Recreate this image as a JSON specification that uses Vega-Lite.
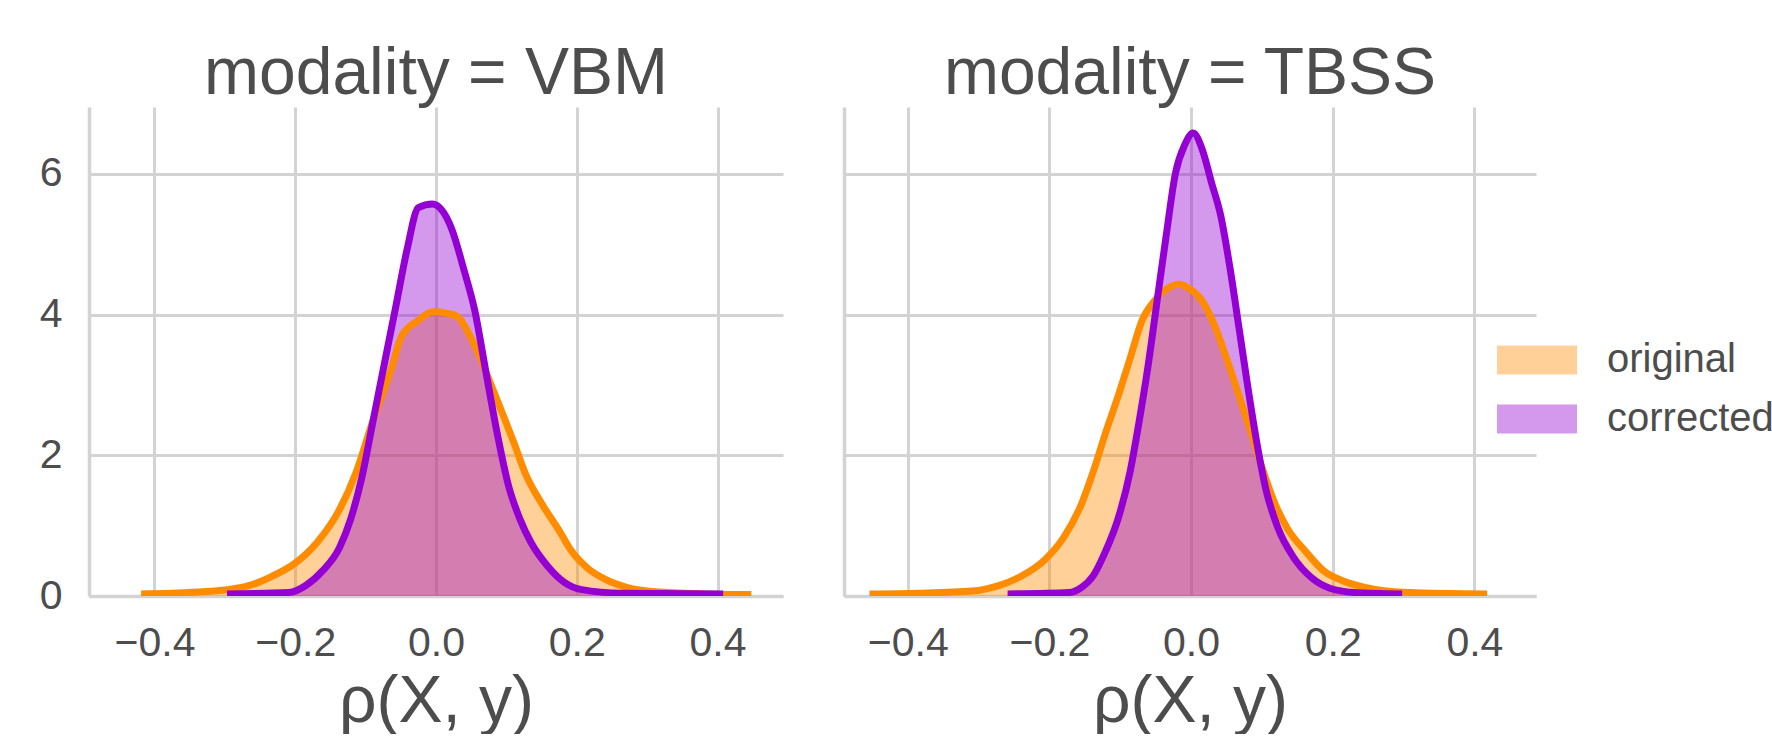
{
  "$schema": "https://vega.github.io/schema/vega-lite/v6.json",
  "background": "white",
  "padding": {"left": 39, "top": 41, "right": 0, "bottom": 0},
  "config": {
    "font": "Liberation Sans",
    "view": {"stroke": null},
    "axis": {
      "labelFont": "Liberation Sans", "labelFontSize": 41, "labelColor": "#4d4d4d",
      "titleFont": "Liberation Sans", "titleFontSize": 66, "titleColor": "#4d4d4d", "titleFontWeight": "normal",
      "gridColor": "#d3d3d3", "gridWidth": 3, "domainColor": "#d3d3d3", "domainWidth": 3.5,
      "ticks": false, "labelPadding": 27
    },
    "title": {"font": "Liberation Sans", "fontSize": 66, "fontWeight": "normal", "color": "#4d4d4d", "anchor": "middle", "offset": -1},
    "legend": {"labelFont": "Liberation Sans", "labelFontSize": 40, "labelColor": "#4d4d4d"}
  },
  "datasets": {
    "kde": [
      {"modality": "VBM", "group": "original", "x": -0.419, "d": 0.03},
      {"modality": "VBM", "group": "original", "x": -0.377, "d": 0.04},
      {"modality": "VBM", "group": "original", "x": -0.297, "d": 0.09},
      {"modality": "VBM", "group": "original", "x": -0.265, "d": 0.15},
      {"modality": "VBM", "group": "original", "x": -0.233, "d": 0.28},
      {"modality": "VBM", "group": "original", "x": -0.201, "d": 0.46},
      {"modality": "VBM", "group": "original", "x": -0.169, "d": 0.76},
      {"modality": "VBM", "group": "original", "x": -0.137, "d": 1.23},
      {"modality": "VBM", "group": "original", "x": -0.113, "d": 1.77},
      {"modality": "VBM", "group": "original", "x": -0.089, "d": 2.51},
      {"modality": "VBM", "group": "original", "x": -0.065, "d": 3.18},
      {"modality": "VBM", "group": "original", "x": -0.049, "d": 3.69},
      {"modality": "VBM", "group": "original", "x": -0.025, "d": 3.92},
      {"modality": "VBM", "group": "original", "x": -0.005, "d": 4.04},
      {"modality": "VBM", "group": "original", "x": 0.015, "d": 4.02},
      {"modality": "VBM", "group": "original", "x": 0.031, "d": 3.97},
      {"modality": "VBM", "group": "original", "x": 0.047, "d": 3.72},
      {"modality": "VBM", "group": "original", "x": 0.063, "d": 3.38},
      {"modality": "VBM", "group": "original", "x": 0.079, "d": 2.98},
      {"modality": "VBM", "group": "original", "x": 0.095, "d": 2.58},
      {"modality": "VBM", "group": "original", "x": 0.111, "d": 2.17},
      {"modality": "VBM", "group": "original", "x": 0.127, "d": 1.74},
      {"modality": "VBM", "group": "original", "x": 0.151, "d": 1.30},
      {"modality": "VBM", "group": "original", "x": 0.175, "d": 0.93},
      {"modality": "VBM", "group": "original", "x": 0.191, "d": 0.66},
      {"modality": "VBM", "group": "original", "x": 0.216, "d": 0.39},
      {"modality": "VBM", "group": "original", "x": 0.240, "d": 0.24},
      {"modality": "VBM", "group": "original", "x": 0.272, "d": 0.12},
      {"modality": "VBM", "group": "original", "x": 0.312, "d": 0.06},
      {"modality": "VBM", "group": "original", "x": 0.384, "d": 0.03},
      {"modality": "VBM", "group": "original", "x": 0.448, "d": 0.02},

      {"modality": "VBM", "group": "corrected", "x": -0.297, "d": 0.03},
      {"modality": "VBM", "group": "corrected", "x": -0.209, "d": 0.05},
      {"modality": "VBM", "group": "corrected", "x": -0.185, "d": 0.15},
      {"modality": "VBM", "group": "corrected", "x": -0.161, "d": 0.36},
      {"modality": "VBM", "group": "corrected", "x": -0.137, "d": 0.69},
      {"modality": "VBM", "group": "corrected", "x": -0.121, "d": 1.10},
      {"modality": "VBM", "group": "corrected", "x": -0.105, "d": 1.70},
      {"modality": "VBM", "group": "corrected", "x": -0.089, "d": 2.51},
      {"modality": "VBM", "group": "corrected", "x": -0.073, "d": 3.32},
      {"modality": "VBM", "group": "corrected", "x": -0.057, "d": 4.12},
      {"modality": "VBM", "group": "corrected", "x": -0.041, "d": 4.93},
      {"modality": "VBM", "group": "corrected", "x": -0.025, "d": 5.52},
      {"modality": "VBM", "group": "corrected", "x": -0.005, "d": 5.57},
      {"modality": "VBM", "group": "corrected", "x": 0.007, "d": 5.50},
      {"modality": "VBM", "group": "corrected", "x": 0.023, "d": 5.20},
      {"modality": "VBM", "group": "corrected", "x": 0.039, "d": 4.66},
      {"modality": "VBM", "group": "corrected", "x": 0.055, "d": 4.06},
      {"modality": "VBM", "group": "corrected", "x": 0.071, "d": 3.18},
      {"modality": "VBM", "group": "corrected", "x": 0.087, "d": 2.31},
      {"modality": "VBM", "group": "corrected", "x": 0.103, "d": 1.57},
      {"modality": "VBM", "group": "corrected", "x": 0.119, "d": 1.10},
      {"modality": "VBM", "group": "corrected", "x": 0.135, "d": 0.76},
      {"modality": "VBM", "group": "corrected", "x": 0.159, "d": 0.42},
      {"modality": "VBM", "group": "corrected", "x": 0.183, "d": 0.19},
      {"modality": "VBM", "group": "corrected", "x": 0.207, "d": 0.09},
      {"modality": "VBM", "group": "corrected", "x": 0.264, "d": 0.04},
      {"modality": "VBM", "group": "corrected", "x": 0.408, "d": 0.03},

      {"modality": "TBSS", "group": "original", "x": -0.454, "d": 0.03},
      {"modality": "TBSS", "group": "original", "x": -0.385, "d": 0.04},
      {"modality": "TBSS", "group": "original", "x": -0.309, "d": 0.07},
      {"modality": "TBSS", "group": "original", "x": -0.274, "d": 0.14},
      {"modality": "TBSS", "group": "original", "x": -0.240, "d": 0.28},
      {"modality": "TBSS", "group": "original", "x": -0.206, "d": 0.52},
      {"modality": "TBSS", "group": "original", "x": -0.180, "d": 0.83},
      {"modality": "TBSS", "group": "original", "x": -0.155, "d": 1.30},
      {"modality": "TBSS", "group": "original", "x": -0.138, "d": 1.77},
      {"modality": "TBSS", "group": "original", "x": -0.121, "d": 2.31},
      {"modality": "TBSS", "group": "original", "x": -0.103, "d": 2.84},
      {"modality": "TBSS", "group": "original", "x": -0.086, "d": 3.38},
      {"modality": "TBSS", "group": "original", "x": -0.069, "d": 3.92},
      {"modality": "TBSS", "group": "original", "x": -0.052, "d": 4.19},
      {"modality": "TBSS", "group": "original", "x": -0.035, "d": 4.36},
      {"modality": "TBSS", "group": "original", "x": -0.018, "d": 4.43},
      {"modality": "TBSS", "group": "original", "x": -0.001, "d": 4.36},
      {"modality": "TBSS", "group": "original", "x": 0.016, "d": 4.19},
      {"modality": "TBSS", "group": "original", "x": 0.033, "d": 3.85},
      {"modality": "TBSS", "group": "original", "x": 0.050, "d": 3.38},
      {"modality": "TBSS", "group": "original", "x": 0.068, "d": 2.84},
      {"modality": "TBSS", "group": "original", "x": 0.085, "d": 2.31},
      {"modality": "TBSS", "group": "original", "x": 0.102, "d": 1.77},
      {"modality": "TBSS", "group": "original", "x": 0.119, "d": 1.30},
      {"modality": "TBSS", "group": "original", "x": 0.136, "d": 0.96},
      {"modality": "TBSS", "group": "original", "x": 0.162, "d": 0.63},
      {"modality": "TBSS", "group": "original", "x": 0.187, "d": 0.36},
      {"modality": "TBSS", "group": "original", "x": 0.213, "d": 0.22},
      {"modality": "TBSS", "group": "original", "x": 0.256, "d": 0.10},
      {"modality": "TBSS", "group": "original", "x": 0.307, "d": 0.05},
      {"modality": "TBSS", "group": "original", "x": 0.418, "d": 0.03},

      {"modality": "TBSS", "group": "corrected", "x": -0.259, "d": 0.03},
      {"modality": "TBSS", "group": "corrected", "x": -0.172, "d": 0.05},
      {"modality": "TBSS", "group": "corrected", "x": -0.155, "d": 0.12},
      {"modality": "TBSS", "group": "corrected", "x": -0.138, "d": 0.29},
      {"modality": "TBSS", "group": "corrected", "x": -0.121, "d": 0.63},
      {"modality": "TBSS", "group": "corrected", "x": -0.103, "d": 1.10},
      {"modality": "TBSS", "group": "corrected", "x": -0.086, "d": 1.77},
      {"modality": "TBSS", "group": "corrected", "x": -0.074, "d": 2.44},
      {"modality": "TBSS", "group": "corrected", "x": -0.061, "d": 3.25},
      {"modality": "TBSS", "group": "corrected", "x": -0.048, "d": 4.19},
      {"modality": "TBSS", "group": "corrected", "x": -0.035, "d": 5.13},
      {"modality": "TBSS", "group": "corrected", "x": -0.022, "d": 6.01},
      {"modality": "TBSS", "group": "corrected", "x": -0.009, "d": 6.41},
      {"modality": "TBSS", "group": "corrected", "x": 0.003, "d": 6.58},
      {"modality": "TBSS", "group": "corrected", "x": 0.016, "d": 6.34},
      {"modality": "TBSS", "group": "corrected", "x": 0.029, "d": 5.87},
      {"modality": "TBSS", "group": "corrected", "x": 0.042, "d": 5.40},
      {"modality": "TBSS", "group": "corrected", "x": 0.055, "d": 4.66},
      {"modality": "TBSS", "group": "corrected", "x": 0.068, "d": 3.79},
      {"modality": "TBSS", "group": "corrected", "x": 0.080, "d": 2.98},
      {"modality": "TBSS", "group": "corrected", "x": 0.093, "d": 2.17},
      {"modality": "TBSS", "group": "corrected", "x": 0.106, "d": 1.50},
      {"modality": "TBSS", "group": "corrected", "x": 0.123, "d": 0.96},
      {"modality": "TBSS", "group": "corrected", "x": 0.144, "d": 0.56},
      {"modality": "TBSS", "group": "corrected", "x": 0.170, "d": 0.26},
      {"modality": "TBSS", "group": "corrected", "x": 0.196, "d": 0.11},
      {"modality": "TBSS", "group": "corrected", "x": 0.230, "d": 0.05},
      {"modality": "TBSS", "group": "corrected", "x": 0.298, "d": 0.03}
    ]
  },
  "data": {"name": "kde"},
  "spacing": 61,
  "hconcat": [
    {
      "title": "modality = VBM",
      "width": 694, "height": 489,
      "transform": [{"filter": "datum.modality === 'VBM'"}],
      "encoding": {
        "x": {"field": "x", "type": "quantitative", "scale": {"domain": [-0.493, 0.493], "nice": false, "zero": false},
              "axis": {"values": [-0.4, -0.2, 0, 0.2, 0.4], "format": ".1f", "title": "ρ(X, y)", "titlePadding": 6}},
        "y": {"field": "d", "type": "quantitative", "stack": null, "scale": {"domain": [0, 6.95], "nice": false},
              "axis": {"values": [0, 2, 4, 6], "title": null}},
        "color": {"field": "group", "type": "nominal", "sort": ["original", "corrected"],
                  "scale": {"domain": ["original", "corrected"], "range": ["#FF8C00", "#9400D3"]}}
      },
      "layer": [
        {"mark": {"type": "area", "opacity": 0.4, "interpolate": "monotone", "clip": true},
         "encoding": {"color": {"field": "group", "type": "nominal", "sort": ["original", "corrected"],
           "legend": {"orient": "none", "legendX": 1428, "legendY": 233, "title": null,
                      "symbolType": "M-2,-0.72L2,-0.72L2,0.72L-2,0.72Z", "symbolSize": 1600,
                      "symbolOpacity": 0.4, "symbolStrokeWidth": 0, "labelOffset": 50, "rowPadding": 19, "labelLimit": 600}}}},
        {"mark": {"type": "line", "strokeWidth": 7, "interpolate": "monotone", "clip": true},
         "encoding": {"color": {"field": "group", "type": "nominal", "legend": null}}}
      ]
    },
    {
      "title": "modality = TBSS",
      "width": 692, "height": 489,
      "transform": [{"filter": "datum.modality === 'TBSS'"}],
      "encoding": {
        "x": {"field": "x", "type": "quantitative", "scale": {"domain": [-0.49, 0.487], "nice": false, "zero": false},
              "axis": {"values": [-0.4, -0.2, 0, 0.2, 0.4], "format": ".1f", "title": "ρ(X, y)", "titlePadding": 6}},
        "y": {"field": "d", "type": "quantitative", "stack": null, "scale": {"domain": [0, 6.95], "nice": false},
              "axis": {"values": [0, 2, 4, 6], "title": null, "labels": false}},
        "color": {"field": "group", "type": "nominal", "sort": ["original", "corrected"],
                  "scale": {"domain": ["original", "corrected"], "range": ["#FF8C00", "#9400D3"]}}
      },
      "layer": [
        {"mark": {"type": "area", "opacity": 0.4, "interpolate": "monotone", "clip": true}},
        {"mark": {"type": "line", "strokeWidth": 7, "interpolate": "monotone", "clip": true},
         "encoding": {"color": {"field": "group", "type": "nominal", "legend": null}}}
      ]
    }
  ]
}
